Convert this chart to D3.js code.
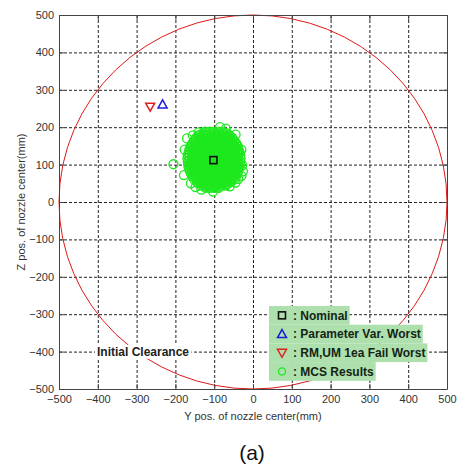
<!DOCTYPE html>
<html>
<head>
<meta charset="utf-8">
<script src="https://cdn.jsdelivr.net/npm/d3@7"></script>
<style>
  body { margin: 0; background: #fff; }
  svg { font-family: Arial, "Liberation Sans", sans-serif; }
</style>
</head>
<body>
<div id="chart"></div>
<script>
// Axis ticks
const tickValues = [-500, -400, -300, -200, -100, 0, 100, 200, 300, 400, 500];

// Clearance circle (center y, center z, radius in mm)
const clearance = { cy: 0, cz: 0, r: 500 };

// Single markers [y, z]
const nominal = [-102, 112];
const paramWorst = [-233, 261];
const failWorst = [-265, 255];

// MCS results: rows of [z, [y values]]
const mcsRows = [
    [188, [-123, -112, -101, -90, -78]],
    [184, [-128, -118, -107, -97, -86, -76, -68]],
    [180, [-137, -127, -116, -106, -95, -84, -74, -63]],
    [176, [-140, -130, -119, -109, -98, -88, -77, -67, -59]],
    [172, [-146, -135, -125, -114, -104, -93, -83, -72, -62, -54]],
    [168, [-147, -137, -126, -116, -105, -95, -84, -74, -63, -53]],
    [164, [-152, -142, -131, -121, -110, -100, -89, -79, -68, -58, -48]],
    [160, [-152, -142, -131, -121, -110, -100, -89, -79, -68, -58, -48]],
    [156, [-157, -147, -136, -126, -115, -105, -94, -84, -73, -63, -53, -43]],
    [152, [-157, -146, -136, -125, -115, -104, -94, -83, -73, -62, -50, -42]],
    [148, [-161, -150, -140, -129, -119, -108, -98, -87, -77, -66, -56, -46, -39]],
    [144, [-160, -149, -139, -128, -118, -107, -97, -86, -76, -65, -55, -44]],
    [140, [-164, -154, -143, -133, -122, -112, -101, -91, -80, -70, -59, -49, -37]],
    [136, [-162, -152, -141, -131, -120, -110, -99, -89, -78, -68, -57, -47, -38]],
    [132, [-166, -156, -145, -135, -124, -114, -103, -93, -82, -72, -61, -51, -41, -34]],
    [128, [-163, -153, -142, -132, -121, -111, -100, -90, -79, -69, -58, -48, -38]],
    [124, [-168, -157, -147, -136, -126, -115, -105, -94, -84, -73, -63, -52, -42, -33]],
    [120, [-164, -154, -143, -133, -122, -112, -101, -91, -80, -70, -59, -49, -39]],
    [116, [-169, -158, -148, -137, -127, -116, -106, -95, -85, -74, -64, -53, -43, -32]],
    [112, [-164, -154, -143, -133, -122, -112, -101, -91, -80, -70, -59, -49, -38]],
    [108, [-168, -159, -149, -138, -128, -117, -107, -96, -86, -75, -65, -54, -44, -33]],
    [104, [-163, -153, -142, -132, -121, -111, -100, -90, -79, -69, -58, -48, -38]],
    [100, [-167, -157, -146, -136, -125, -115, -104, -94, -83, -73, -62, -52, -41, -34]],
    [96, [-162, -151, -141, -130, -120, -109, -99, -88, -78, -67, -57, -46, -38]],
    [92, [-166, -155, -145, -134, -124, -113, -103, -92, -82, -71, -61, -50, -40, -35]],
    [88, [-159, -149, -138, -128, -117, -107, -96, -86, -75, -65, -54, -43]],
    [84, [-163, -152, -142, -131, -121, -110, -100, -89, -79, -68, -58, -47, -38]],
    [80, [-156, -146, -135, -125, -114, -104, -93, -83, -72, -62, -51, -42]],
    [76, [-160, -149, -139, -128, -118, -107, -97, -86, -76, -65, -55, -45, -40]],
    [72, [-152, -141, -131, -120, -110, -99, -89, -78, -68, -57, -47]],
    [68, [-156, -145, -135, -124, -114, -103, -93, -82, -72, -61, -51, -44]],
    [64, [-147, -137, -126, -116, -105, -95, -84, -74, -63, -54]],
    [60, [-151, -140, -130, -119, -109, -98, -88, -77, -67, -56, -49]],
    [56, [-141, -130, -120, -109, -99, -88, -78, -67, -57]],
    [52, [-144, -133, -123, -112, -102, -91, -81, -70, -60]],
    [48, [-132, -121, -111, -100, -90, -79, -68]],
    [44, [-134, -123, -113, -102, -92, -81, -70]],
    [41, [-120, -109, -98, -87]],
    [38, [-122, -111, -100, -89]]
];

// MCS stray points [y, z]
const mcsOutliers = [
    [-205, 101], [-178, 72], [-176, 140], [-170, 170], [-160, 50], [-148, 40],
    [-133, 33], [-103, 28], [-60, 42], [-45, 52], [-38, 62], [-30, 70],
    [-26, 82], [-28, 98], [-30, 140], [-45, 180], [-70, 196], [-85, 200],
    [-140, 186], [-155, 178]
];

const legendItems = [
    { key: 'nominal', label: ': Nominal' },
    { key: 'param', label: ': Parameter Var. Worst' },
    { key: 'fail', label: ': RM,UM 1ea Fail Worst' },
    { key: 'mcs', label: ': MCS Results' }
];

const width = 461;
const height = 471;
const plot = { left: 59, top: 15, right: 447, bottom: 389 };

const svg = d3.select('#chart')
    .append('svg')
    .attr('width', width)
    .attr('height', height);

const x = d3.scaleLinear().domain([-500, 500]).range([plot.left, plot.right]);
const y = d3.scaleLinear().domain([-500, 500]).range([plot.bottom, plot.top]);

// Grid
const grid = svg.append('g')
    .attr('stroke', '#222')
    .attr('stroke-width', 1)
    .attr('stroke-dasharray', '3,2');

grid.selectAll('line.gx')
    .data(tickValues)
    .enter()
    .append('line')
    .attr('x1', d => x(d) + 0.5)
    .attr('x2', d => x(d) + 0.5)
    .attr('y1', plot.top)
    .attr('y2', plot.bottom);

grid.selectAll('line.gy')
    .data(tickValues)
    .enter()
    .append('line')
    .attr('y1', d => y(d) + 0.5)
    .attr('y2', d => y(d) + 0.5)
    .attr('x1', plot.left)
    .attr('x2', plot.right);

// Clearance circle
svg.append('ellipse')
    .attr('cx', x(clearance.cy))
    .attr('cy', y(clearance.cz))
    .attr('rx', x(clearance.r) - x(0))
    .attr('ry', y(0) - y(clearance.r))
    .attr('fill', 'none')
    .attr('stroke', '#e01818')
    .attr('stroke-width', 1);

// MCS points
const mcs = [];
mcsRows.forEach(([z, ys]) => ys.forEach(v => mcs.push([v, z])));
mcsOutliers.forEach(p => mcs.push(p));

svg.append('g')
    .selectAll('circle')
    .data(mcs)
    .enter()
    .append('circle')
    .attr('cx', d => x(d[0]))
    .attr('cy', d => y(d[1]))
    .attr('r', 4.5)
    .attr('fill', 'none')
    .attr('stroke', '#1ee81e')
    .attr('stroke-width', 1.3);

// Marker symbols
function drawMarker(g, key, cx, cy) {
    if (key === 'nominal') {
        g.append('rect')
            .attr('x', cx - 3.5).attr('y', cy - 3.5)
            .attr('width', 7).attr('height', 7)
            .attr('fill', 'none')
            .attr('stroke', '#111')
            .attr('stroke-width', 1.6);
    } else if (key === 'param') {
        g.append('path')
            .attr('d', `M${cx},${cy - 4.5}L${cx + 4.5},${cy + 3.5}L${cx - 4.5},${cy + 3.5}Z`)
            .attr('fill', 'none')
            .attr('stroke', '#1a1adc')
            .attr('stroke-width', 1.5);
    } else if (key === 'fail') {
        g.append('path')
            .attr('d', `M${cx - 4.5},${cy - 3.5}L${cx + 4.5},${cy - 3.5}L${cx},${cy + 4.5}Z`)
            .attr('fill', 'none')
            .attr('stroke', '#e02020')
            .attr('stroke-width', 1.5);
    } else {
        g.append('circle')
            .attr('cx', cx).attr('cy', cy).attr('r', 3.5)
            .attr('fill', 'none')
            .attr('stroke', '#1ee81e')
            .attr('stroke-width', 1.3);
    }
}

const marks = svg.append('g');
drawMarker(marks, 'nominal', x(nominal[0]), y(nominal[1]));
drawMarker(marks, 'param', x(paramWorst[0]), y(paramWorst[1]));
drawMarker(marks, 'fail', x(failWorst[0]), y(failWorst[1]));

// Axes (ticks inward, Matlab style)
function styleAxis(g) {
    g.select('.domain').attr('stroke', '#444');
    g.selectAll('.tick line').attr('stroke', '#444');
    g.selectAll('.tick text')
        .attr('fill', '#333')
        .style('font-size', '11px');
}

svg.append('g')
    .attr('transform', `translate(0,${plot.bottom})`)
    .call(d3.axisBottom(x).tickValues(tickValues).tickSize(-5).tickSizeOuter(0).tickPadding(6))
    .call(styleAxis);

svg.append('g')
    .attr('transform', `translate(${plot.left},0)`)
    .call(d3.axisLeft(y).tickValues(tickValues).tickSize(-5).tickSizeOuter(0).tickPadding(5))
    .call(styleAxis);

svg.append('g')
    .attr('transform', `translate(0,${plot.top})`)
    .call(d3.axisTop(x).tickValues(tickValues).tickSize(-5).tickSizeOuter(0).tickFormat(''))
    .call(styleAxis);

svg.append('g')
    .attr('transform', `translate(${plot.right},0)`)
    .call(d3.axisRight(y).tickValues(tickValues).tickSize(-5).tickSizeOuter(0).tickFormat(''))
    .call(styleAxis);

// Axis labels
svg.append('text')
    .attr('x', (plot.left + plot.right) / 2)
    .attr('y', 420)
    .attr('text-anchor', 'middle')
    .attr('fill', '#333')
    .style('font-size', '11px')
    .text('Y pos. of nozzle center(mm)');

svg.append('text')
    .attr('transform', `translate(21,${(plot.top + plot.bottom) / 2}) rotate(-90)`)
    .attr('text-anchor', 'middle')
    .attr('dy', '0.35em')
    .attr('fill', '#333')
    .style('font-size', '11px')
    .text('Z pos. of nozzle center(mm)');

// Initial Clearance label
const clr = svg.append('g');
const clrText = clr.append('text')
    .attr('x', 97)
    .attr('y', y(-400))
    .attr('dy', '0.35em')
    .attr('fill', '#222')
    .style('font-size', '12px')
    .style('font-weight', 'bold')
    .text('Initial Clearance');
const cb = clrText.node().getBBox();
clr.insert('rect', 'text')
    .attr('x', cb.x - 2)
    .attr('y', cb.y)
    .attr('width', cb.width + 4)
    .attr('height', cb.height)
    .attr('fill', '#fff');

// Legend
const legend = svg.append('g').attr('transform', 'translate(269,306)');
const rowH = 18.7;
legendItems.forEach((item, i) => {
    const row = legend.append('g').attr('transform', `translate(0,${i * rowH})`);
    const bg = row.append('rect')
        .attr('height', rowH)
        .attr('fill', '#aee0ae');
    const t = row.append('text')
        .attr('x', 24)
        .attr('y', rowH / 2)
        .attr('dy', '0.35em')
        .attr('fill', '#142414')
        .style('font-size', '12px')
        .style('font-weight', 'bold')
        .text(item.label);
    bg.attr('width', 24 + t.node().getComputedTextLength() + 2);
    drawMarker(row, item.key, 13, rowH / 2);
});

// Caption
svg.append('text')
    .attr('x', 252)
    .attr('y', 460)
    .attr('text-anchor', 'middle')
    .attr('fill', '#111')
    .style('font-size', '21px')
    .text('(a)');
</script>
</body>
</html>
